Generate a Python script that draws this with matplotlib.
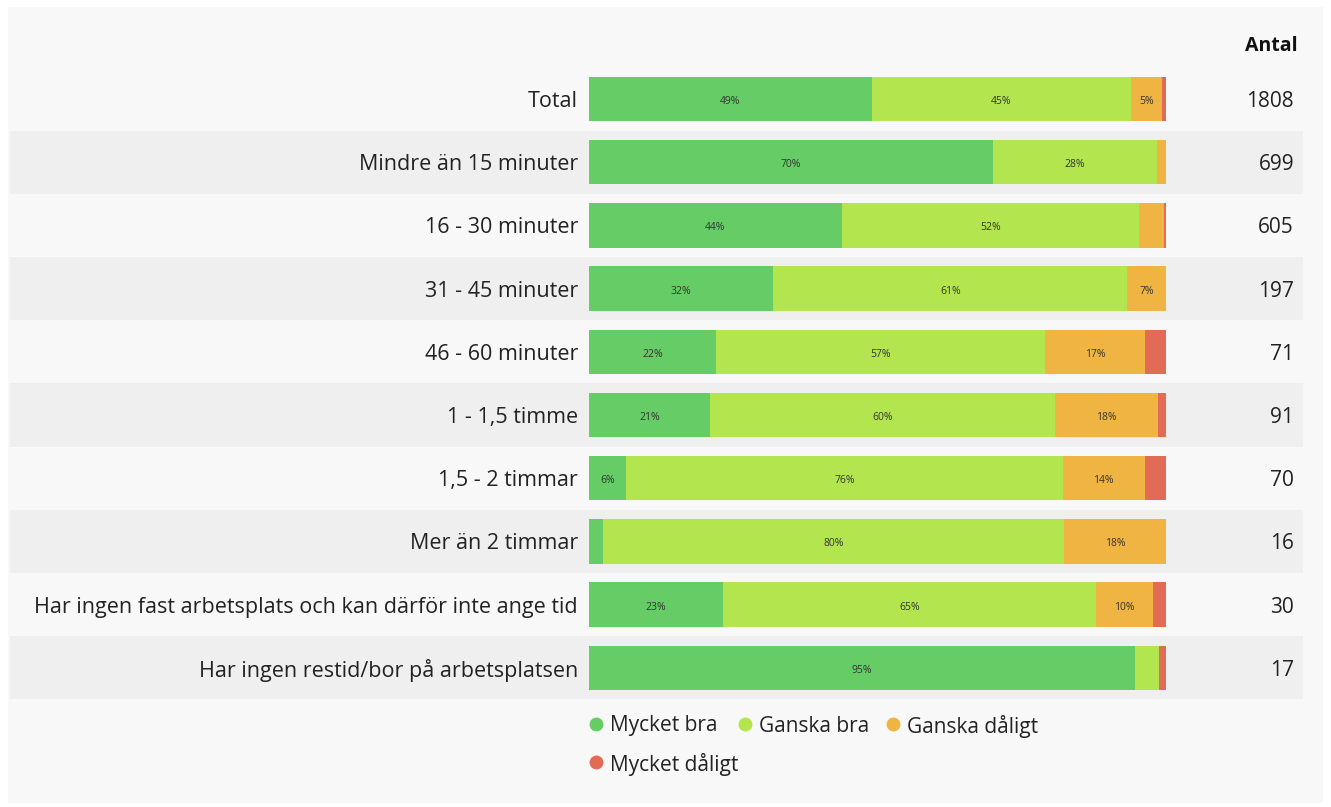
import matplotlib
matplotlib.use("Agg")
import matplotlib.pyplot as plt
import matplotlib.transforms as mtransforms
from matplotlib.patches import Rectangle
from matplotlib.lines import Line2D

categories = [
    "Total",
    "Mindre än 15 minuter",
    "16 - 30 minuter",
    "31 - 45 minuter",
    "46 - 60 minuter",
    "1 - 1,5 timme",
    "1,5 - 2 timmar",
    "Mer än 2 timmar",
    "Har ingen fast arbetsplats och kan därför inte ange tid",
    "Har ingen restid/bor på arbetsplatsen",
]
series_names = ["Mycket bra", "Ganska bra", "Ganska dåligt", "Mycket dåligt"]
mycket_bra = [49.0, 70.0, 43.8, 31.9, 22.0, 21.0, 6.4, 2.4, 23.2, 94.6]
ganska_bra = [45.0, 28.4, 51.5, 61.4, 57.0, 59.8, 75.7, 80.0, 64.6, 4.2]
ganska_daligt = [5.3, 1.6, 4.3, 6.7, 17.4, 17.8, 14.2, 17.6, 9.9, 0.0]
mycket_daligt = [0.7, 0.0, 0.4, 0.0, 3.6, 1.4, 3.7, 0.0, 2.3, 1.2]
antal = [1808, 699, 605, 197, 71, 91, 70, 16, 30, 17]

colors = ["#66cc66", "#b3e64e", "#f0b443", "#e26b56"]
plt.rcParams["font.family"] = ["Open Sans", "DejaVu Sans"]

W, H = 1331, 807
fig = plt.figure(figsize=(W / 100, H / 100), dpi=100, facecolor="white")
fig.patches.append(Rectangle((8 / W, 4 / H), (1323 - 8) / W, (800 - 4) / H,
                             transform=fig.transFigure, facecolor="#f8f8f8",
                             edgecolor="none", zorder=-10))

row_top, row_step = 99 - 31.6, 63.2
n = len(categories)
ax_top = row_top
ax_bot = row_top + n * row_step
left, right = 589, 1166
ax = fig.add_axes([left / W, 1 - ax_bot / H, (right - left) / W, (ax_bot - ax_top) / H])
ax.set_xlim(0, 100)
ax.set_ylim(n - 0.5, -0.5)
ax.axis("off")

# alternating row stripes
trans = mtransforms.blended_transform_factory(fig.transFigure, ax.transData)
for i in range(n):
    if i % 2 == 1:
        ax.add_patch(Rectangle((10 / W, i - 0.5), (1303 - 10) / W, 1.0, transform=trans,
                               facecolor="#efefef", edgecolor="none", zorder=0,
                               clip_on=False))

series = [mycket_bra, ganska_bra, ganska_daligt, mycket_daligt]
ys = list(range(n))
lefts = [0.0] * n
for s, vals in enumerate(series):
    ax.barh(ys, vals, left=lefts, height=0.7, color=colors[s], edgecolor="none", zorder=2)
    for i, v in enumerate(vals):
        if v >= 5:
            ax.text(lefts[i] + v / 2, i + 0.04, f"{round(v)}%", ha="center", va="center",
                    fontsize=7.5, color="#333333", zorder=3)
    lefts = [a + b for a, b in zip(lefts, vals)]

# category labels
for i, c in enumerate(categories):
    ax.text(-1.9, i + 0.04, c, ha="right", va="center", fontsize=15.5, color="#222222",
            clip_on=False)

# count column
for i, a in enumerate(antal):
    ax.text(1294 / W, i + 0.04, str(a), transform=trans, ha="right", va="center",
            fontsize=15, color="#222222", clip_on=False)
fig.text(1298 / W, 1 - 46 / H, "Antal", ha="right", va="center", fontsize=14,
         fontweight="bold", color="#111111")

# legend (flow layout as in the reference)
leg_pos = [(596, 724), (745, 724), (893, 724), (596, 762)]
for k, (px, py) in enumerate(leg_pos):
    fig.add_artist(Line2D([px / W], [1 - py / H], transform=fig.transFigure,
                          marker="o", linestyle="none", markersize=10,
                          markerfacecolor=colors[k], markeredgecolor="none"))
    fig.text((px + 14) / W, 1 - (py + 2) / H, series_names[k], ha="left", va="center",
             fontsize=15, color="#222222")

fig.savefig("out.png", dpi=100, facecolor=fig.get_facecolor())
